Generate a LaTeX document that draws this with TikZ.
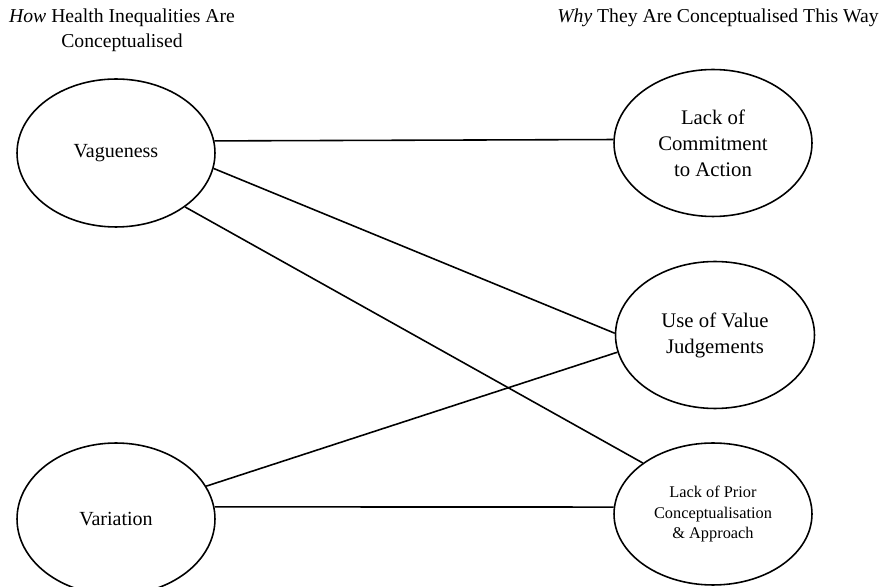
\documentclass[tikz,border=0pt]{standalone}
\usepackage{fontspec}
\setmainfont{Liberation Serif}
\usetikzlibrary{shapes.geometric}

\begin{document}
\begin{tikzpicture}[x=0.02cm, y=-0.02cm,
    theme/.style={ellipse, draw, line width=0.9pt, inner sep=0pt, minimum width=3.96cm, minimum height=2.96cm, align=center, font=\fontsize{11.4}{14.5}\selectfont},
    reason/.style={theme, minimum height=2.94cm, font=\fontsize{11.8}{14.8}\selectfont},
    title/.style={align=center, font=\fontsize{11.2}{14.2}\selectfont}]
        \clip (0,0) rectangle (883,587);
        \node[title] (howtitle) at (122,30.5) {\textit{How} Health Inequalities Are\\Conceptualised};
        \node[title] (whytitle) at (718,18) {\textit{Why} They Are Conceptualised This Way};
        \node[theme] (vague) at (116,153) {Vagueness};
        \node[theme, minimum height=3.04cm] (variation) at (116,519) {Variation};
        \node[reason] (commit) at (713,143) {Lack of\\Commitment\\to Action};
        \node[reason, minimum width=3.98cm] (value) at (715,335) {Use of Value\\Judgements};
        \node[reason, minimum height=2.84cm, font=\fontsize{9.3}{11.6}\selectfont] (prior) at (713,514) {Lack of Prior\\Conceptualisation\\\& Approach};
        \draw[-, line width=0.9pt] (vague.7.5) -- (commit.178);
        \draw[-, line width=0.9pt] (vague.-9.4) -- (value.179);
        \draw[-, line width=0.9pt] (vague.-38) -- (prior.144);
        \draw[-, line width=0.9pt] (variation.20.5) -- (value.190.5);
        \draw[-, line width=0.9pt] (variation.7) -- (prior.176);
\end{tikzpicture}
\end{document}
